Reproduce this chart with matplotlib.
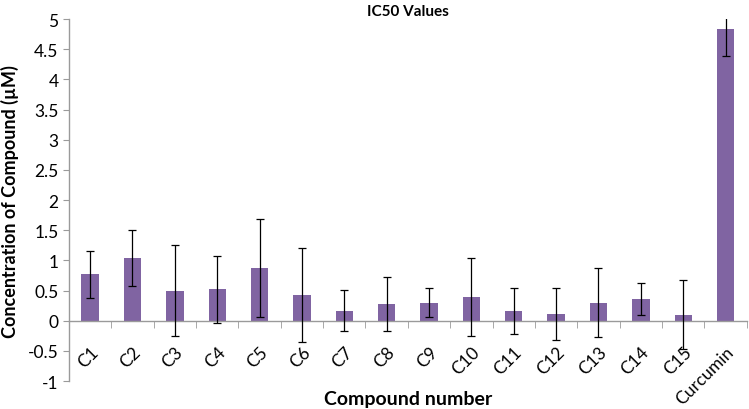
import numpy as np
import matplotlib.pyplot as plt

plt.rcParams['font.family'] = ['Lato', 'DejaVu Sans']

compounds = ['C1', 'C2', 'C3', 'C4', 'C5', 'C6', 'C7', 'C8', 'C9', 'C10',
             'C11', 'C12', 'C13', 'C14', 'C15', 'Curcumin']
ic50 = [0.77, 1.04, 0.50, 0.52, 0.88, 0.43, 0.17, 0.28, 0.30, 0.39,
        0.16, 0.11, 0.30, 0.36, 0.10, 4.83]
err = [0.39, 0.47, 0.76, 0.55, 0.81, 0.78, 0.34, 0.45, 0.24, 0.65,
       0.38, 0.43, 0.57, 0.26, 0.57, 0.44]

fig = plt.figure(figsize=(7.49, 4.10), dpi=100)
ax = fig.add_axes([0.092, 0.068, 0.905, 0.883])

x = np.arange(len(compounds))
ax.bar(x, ic50, width=0.41, color='#8064A2', zorder=2)
ax.errorbar(x, ic50, yerr=err, fmt='none', ecolor='black', elinewidth=0.9,
            capsize=3, capthick=0.9, zorder=3)

ax.set_xlim(-0.5, len(compounds) - 0.5)
ax.set_ylim(-1, 5)
ax.set_yticks(np.arange(-1, 5.01, 0.5))
ax.set_yticklabels(['-1', '-0.5', '0', '0.5', '1', '1.5', '2', '2.5', '3',
                    '3.5', '4', '4.5', '5'])

# x axis sits on zero
ax.spines['bottom'].set_position(('data', 0))
ax.spines['top'].set_visible(False)
ax.spines['right'].set_visible(False)
for s in ['left', 'bottom']:
    ax.spines[s].set_color('#9a9a9a')
    ax.spines[s].set_linewidth(1)

ax.set_xticks(x)
ax.set_xticklabels(compounds, rotation=45, ha='right', va='top',
                   rotation_mode='anchor', fontsize=12.5)
ax.set_xticks(np.arange(-0.5, len(compounds), 1), minor=True)
ax.tick_params(axis='x', which='major', length=0, pad=16)
ax.tick_params(axis='x', which='minor', length=5, color='#9a9a9a')
ax.tick_params(axis='y', length=4, color='#9a9a9a', labelsize=12.5)

ax.set_title('IC50 Values', fontsize=11, fontweight='bold', pad=3)
ax.set_ylabel('Concentration of Compound (µM)', fontsize=13, fontweight='bold',
              labelpad=6)
ax.text(0.5, -0.048, 'Compound number', transform=ax.transAxes, ha='center',
        va='center', fontsize=14, fontweight='bold')

fig.savefig('out.png', dpi=100)
